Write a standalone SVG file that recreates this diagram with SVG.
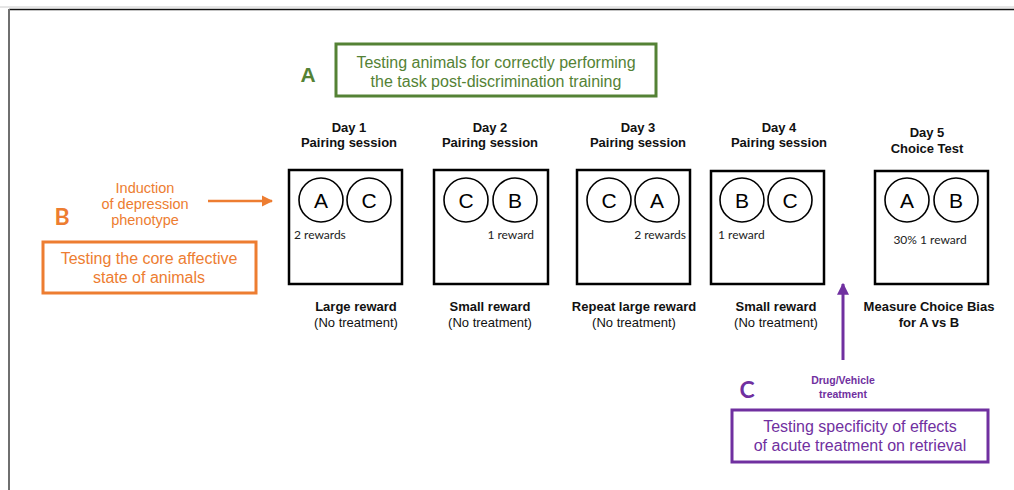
<svg xmlns="http://www.w3.org/2000/svg" width="1014" height="490" viewBox="0 0 1014 490">
  <style>
    .box { fill: #fff; stroke: #000; stroke-width: 2.5; }
    .circ { fill: #fff; stroke: #000; stroke-width: 1.6; }
    .letter { font-family: "Liberation Sans", Arial, sans-serif; font-size: 21px; text-anchor: middle; fill: #000; }
    .rew { font-family: Lato, "Open Sans", sans-serif; font-size: 12px; fill: #222; }
    .day { font-family: "Liberation Sans", Arial, sans-serif; font-size: 13px; font-weight: bold; text-anchor: middle; fill: #111; }
    .sub { font-family: "Liberation Sans", Arial, sans-serif; font-size: 13px; text-anchor: middle; fill: #111; }
    .green { fill: #548235; }
    .orange { fill: #ED7D31; }
    .purple { fill: #7030A0; }
    .note { font-family: "Liberation Sans", Arial, sans-serif; font-size: 16px; text-anchor: middle; }
    .small { font-family: "Liberation Sans", Arial, sans-serif; font-size: 14.5px; text-anchor: middle; }
    .drug { font-family: "Liberation Sans", Arial, sans-serif; font-size: 10.5px; font-weight: bold; text-anchor: middle; }
    .tag { font-family: "Liberation Sans", Arial, sans-serif; font-size: 21px; font-weight: bold; text-anchor: middle; }
    .tag2 { font-family: Lato, "Open Sans", sans-serif; font-size: 23px; font-weight: bold; text-anchor: middle; }
  </style>
  <defs>
    <marker id="arrOrange" viewBox="0 0 10 10" refX="9" refY="5" markerWidth="4.5" markerHeight="4.5" orient="auto" markerUnits="strokeWidth">
      <path d="M0,0 L10,5 L0,10 z" fill="#ED7D31"/>
    </marker>
    <marker id="arrPurple" viewBox="0 0 10 10" refX="9" refY="5" markerWidth="4" markerHeight="4" orient="auto" markerUnits="strokeWidth">
      <path d="M0,0 L10,5 L0,10 z" fill="#7030A0"/>
    </marker>
  </defs>

  <rect width="1014" height="490" fill="#fff"/>
  <!-- outer frame -->
  <g id="frame">
    <line x1="0" y1="7" x2="1014" y2="7" stroke="#ccc" stroke-width="1"/>
    <line x1="9" y1="9.5" x2="1014" y2="9.5" stroke="#111" stroke-width="1.5"/>
    <line x1="9" y1="9" x2="9" y2="490" stroke="#6f6f6f" stroke-width="2"/>
  </g>

  <!-- A: discrimination training check -->
  <g id="noteA">
    <text class="tag green" x="308" y="82">A</text>
    <rect x="336" y="44" width="320" height="52" fill="none" stroke="#548235" stroke-width="3"/>
    <text class="note green" x="496" y="68">Testing animals for correctly performing</text>
    <text class="note green" x="496" y="87">the task post-discrimination training</text>
  </g>

  <!-- B: affective state -->
  <g id="noteB">
    <text class="tag2 orange" x="62" y="225">B</text>
    <text class="small orange" x="145" y="193">Induction</text>
    <text class="small orange" x="145" y="209">of depression</text>
    <text class="small orange" x="145" y="225">phenotype</text>
    <rect x="43" y="242" width="213" height="51" fill="none" stroke="#ED7D31" stroke-width="3"/>
    <text class="note orange" x="149" y="264">Testing the core affective</text>
    <text class="note orange" x="149" y="283">state of animals</text>
  </g>

  <!-- C: drug treatment -->
  <g id="noteC">
    <text class="tag2 purple" x="747" y="398">C</text>
    <text class="drug purple" x="843" y="384">Drug/Vehicle</text>
    <text class="drug purple" x="843" y="398">treatment</text>
    <rect x="732" y="410" width="256" height="52" fill="none" stroke="#7030A0" stroke-width="3"/>
    <text class="note purple" x="860" y="432">Testing specificity of effects</text>
    <text class="note purple" x="860" y="451">of acute treatment on retrieval</text>
  </g>

  <!-- Day 1 -->
  <g id="day1">
    <text class="day" x="349" y="132">Day 1</text>
    <text class="day" x="349" y="147">Pairing session</text>
    <rect class="box" x="289" y="170" width="113" height="114"/>
    <circle class="circ" cx="321" cy="200" r="22"/>
    <circle class="circ" cx="369" cy="200" r="22"/>
    <text class="letter" x="321" y="208">A</text>
    <text class="letter" x="369" y="208">C</text>
    <text class="rew" x="294" y="239">2 rewards</text>
    <text class="day" x="356" y="311">Large reward</text>
    <text class="sub" x="356" y="327">(No treatment)</text>
  </g>

  <!-- Day 2 -->
  <g id="day2">
    <text class="day" x="490" y="132">Day 2</text>
    <text class="day" x="490" y="147">Pairing session</text>
    <rect class="box" x="434" y="170" width="114" height="114"/>
    <circle class="circ" cx="466" cy="200" r="22"/>
    <circle class="circ" cx="515" cy="200" r="22"/>
    <text class="letter" x="466" y="208">C</text>
    <text class="letter" x="515" y="208">B</text>
    <text class="rew" x="534" y="239" text-anchor="end">1 reward</text>
    <text class="day" x="490" y="311">Small reward</text>
    <text class="sub" x="490" y="327">(No treatment)</text>
  </g>

  <!-- Day 3 -->
  <g id="day3">
    <text class="day" x="638" y="132">Day 3</text>
    <text class="day" x="638" y="147">Pairing session</text>
    <rect class="box" x="577" y="170" width="113" height="114"/>
    <circle class="circ" cx="609" cy="200" r="22"/>
    <circle class="circ" cx="657" cy="200" r="22"/>
    <text class="letter" x="609" y="208">C</text>
    <text class="letter" x="657" y="208">A</text>
    <text class="rew" x="686" y="239" text-anchor="end">2 rewards</text>
    <text class="day" x="634" y="311">Repeat large reward</text>
    <text class="sub" x="634" y="327">(No treatment)</text>
  </g>

  <!-- Day 4 -->
  <g id="day4">
    <text class="day" x="779" y="132">Day 4</text>
    <text class="day" x="779" y="147">Pairing session</text>
    <rect class="box" x="711" y="171" width="113" height="113"/>
    <circle class="circ" cx="742" cy="200" r="22"/>
    <circle class="circ" cx="790" cy="200" r="22"/>
    <text class="letter" x="742" y="208">B</text>
    <text class="letter" x="790" y="208">C</text>
    <text class="rew" x="718" y="239">1 reward</text>
    <text class="day" x="776" y="311">Small reward</text>
    <text class="sub" x="776" y="327">(No treatment)</text>
  </g>

  <!-- Day 5 -->
  <g id="day5">
    <text class="day" x="927" y="137">Day 5</text>
    <text class="day" x="927" y="153">Choice Test</text>
    <rect class="box" x="875" y="171" width="113" height="113"/>
    <circle class="circ" cx="907" cy="200" r="22"/>
    <circle class="circ" cx="956" cy="200" r="22"/>
    <text class="letter" x="907" y="208">A</text>
    <text class="letter" x="956" y="208">B</text>
    <text class="rew" x="930" y="244" text-anchor="middle">30% 1 reward</text>
    <text class="day" x="929" y="311">Measure Choice Bias</text>
    <text class="day" x="929" y="327">for A vs B</text>
  </g>

  <!-- connectors -->
  <g id="connectors">
    <line x1="208" y1="201" x2="272" y2="201" stroke="#ED7D31" stroke-width="2.5" marker-end="url(#arrOrange)"/>
    <line x1="843" y1="360" x2="843" y2="284" stroke="#7030A0" stroke-width="3" marker-end="url(#arrPurple)"/>
  </g>
</svg>
